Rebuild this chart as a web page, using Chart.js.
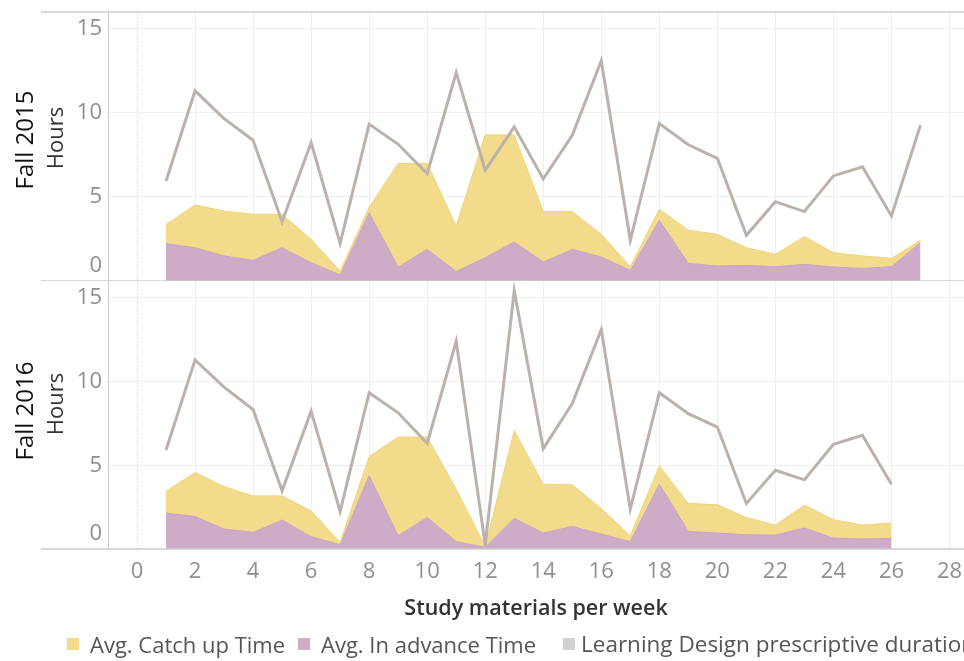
<!DOCTYPE html>
<html lang="en">
<head>
    <meta charset="UTF-8" />
    <title>Study time per week</title>
    <style>
        body { margin: 0; background: #fff; font-family: 'Open Sans', 'Noto Sans', sans-serif; }
        #wrap { position: relative; width: 964px; height: 661px; overflow: hidden; }
        .panel { position: absolute; left: 0; width: 964px; }
        #topPanel { top: 0; height: 281px; }
        #bottomPanel { top: 281px; height: 380px; }
        .sw { position: absolute; top: 638px; width: 12px; height: 12px; }
        .lg { position: absolute; top: 630px; font-size: 22px; line-height: 28px; color: #555; white-space: nowrap; }
        .vlabel { position: absolute; width: 200px; height: 30px; line-height: 30px; margin-left: -100px; margin-top: -15px;
                  text-align: center; transform: rotate(-90deg); white-space: nowrap; }
        .term { font-size: 24px; color: #111; }
        .hours { font-size: 22px; color: #333; }
    </style>
</head>
<body>
<div id="wrap">
    <div class="panel" id="topPanel"><canvas id="chart2015"></canvas></div>
    <div class="panel" id="bottomPanel"><canvas id="chart2016"></canvas></div>

    <div class="vlabel term" style="left:24px; top:140px;">Fall 2015</div>
    <div class="vlabel hours" style="left:54px; top:138px;">Hours</div>
    <div class="vlabel term" style="left:24px; top:411px;">Fall 2016</div>
    <div class="vlabel hours" style="left:54px; top:404px;">Hours</div>

    <div class="sw" style="left:67px; background:#f2db8a;"></div>
    <div class="lg" style="left:90px;">Avg. Catch up Time</div>
    <div class="sw" style="left:298px; background:#ceacc7;"></div>
    <div class="lg" style="left:321px;">Avg. In advance Time</div>
    <div class="sw" style="left:563px; background:#d4d0cd;"></div>
    <div class="lg" style="left:581px; font-size:22.5px;">Learning Design prescriptive duration</div>
</div>

<script src="https://cdn.jsdelivr.net/npm/chart.js"></script>
<script>
    const FONT = "'Open Sans', 'Noto Sans', sans-serif";

    // axis ticks
    const xTicks = [0, 2, 4, 6, 8, 10, 12, 14, 16, 18, 20, 22, 24, 26, 28];
    const yTicks = [0, 5, 10, 15];

    // Fall 2015 (hours per week of study material)
    const weeks2015 = [1, 2, 3, 4, 5, 6, 7, 8, 9, 10, 11, 12, 13, 14, 15, 16, 17, 18, 19, 20, 21, 22, 23, 24, 25, 26, 27];
    const advance2015 = [2.22, 1.98, 1.49, 1.23, 1.98, 1.09, 0.36, 4.05, 0.83, 1.88, 0.56, 1.39, 2.32, 1.13, 1.88, 1.43, 0.63, 3.61, 1.05, 0.89, 0.93, 0.85, 0.99, 0.83, 0.75, 0.85, 2.28];
    const catchUp2015 = [1.15, 2.54, 2.68, 2.74, 1.99, 1.39, 0.24, 0.34, 6.17, 5.12, 2.71, 7.30, 6.37, 3.00, 2.25, 1.35, 0.22, 0.66, 1.97, 1.89, 1.05, 0.74, 1.65, 0.86, 0.74, 0.50, 0.14];
    const design2015 = [5.95, 11.31, 9.66, 8.37, 3.53, 8.23, 2.24, 9.33, 8.13, 6.39, 12.40, 6.59, 9.17, 6.07, 8.67, 13.10, 2.42, 9.37, 8.10, 7.30, 2.72, 4.72, 4.13, 6.25, 6.79, 3.87, 9.27];

    // Fall 2016
    const weeks2016 = [1, 2, 3, 4, 5, 6, 7, 8, 9, 10, 11, 12, 13, 14, 15, 16, 17, 18, 19, 20, 21, 22, 23, 24, 25, 26];
    const advance2016 = [2.14, 1.94, 1.19, 0.99, 1.73, 0.73, 0.26, 4.37, 0.79, 1.88, 0.44, 0.10, 1.83, 0.95, 1.35, 0.89, 0.44, 3.87, 1.05, 0.95, 0.85, 0.83, 1.25, 0.65, 0.60, 0.63];
    const catchUp2016 = [1.33, 2.62, 2.54, 2.18, 1.44, 1.55, 0.14, 1.15, 5.90, 4.81, 3.13, 0.06, 5.25, 2.92, 2.48, 1.53, 0.35, 1.09, 1.67, 1.69, 1.03, 0.60, 1.37, 1.10, 0.83, 0.92];
    const design2016 = [5.91, 11.29, 9.66, 8.33, 3.47, 8.23, 2.24, 9.33, 8.13, 6.31, 12.40, 0.24, 15.42, 5.99, 8.69, 13.10, 2.38, 9.33, 8.08, 7.28, 2.72, 4.70, 4.13, 6.25, 6.79, 3.87];

    function toPoints(weeks, values) {
        return weeks.map((w, i) => ({ x: w, y: values[i] }));
    }

    // panel frame lines, dotted zero line and the raised "0" label
    const framePlugin = {
        id: 'frame',
        beforeDatasetsDraw(chart) {
            const { ctx, chartArea: a, scales: { x } } = chart;
            const x0 = Math.round(x.getPixelForValue(0)) + 0.5;
            ctx.save();
            ctx.strokeStyle = '#cfcfcf';
            ctx.lineWidth = 1;
            ctx.setLineDash([1, 2]);
            ctx.beginPath();
            ctx.moveTo(x0, a.top);
            ctx.lineTo(x0, a.bottom);
            ctx.stroke();
            ctx.restore();
        },
        afterDraw(chart, args, opts) {
            const { ctx, chartArea: a, scales: { y } } = chart;
            ctx.save();
            ctx.strokeStyle = '#cccccc';
            ctx.lineWidth = 1.5;
            const rows = opts.drawTop ? [a.top, a.bottom] : [a.bottom];
            rows.forEach(py => {
                ctx.beginPath();
                ctx.moveTo(41, py);
                ctx.lineTo(chart.width, py);
                ctx.stroke();
            });
            ctx.fillStyle = '#8f8f8f';
            ctx.font = '22px ' + FONT;
            ctx.textAlign = 'right';
            ctx.textBaseline = 'middle';
            ctx.fillText('0', a.left - 6, y.getPixelForValue(0) - 15);
            ctx.restore();
        }
    };

    function makePanel(canvasId, weeks, advance, catchUp, design, showX) {
        const ctx = document.getElementById(canvasId).getContext('2d');
        return new Chart(ctx, {
            type: 'line',
            data: {
                datasets: [{
                    label: 'Learning Design prescriptive duration',
                    data: toPoints(weeks, design),
                    stack: 'design',
                    borderColor: '#bbb1ad',
                    borderWidth: 3,
                    fill: false,
                    pointRadius: 0,
                    tension: 0
                }, {
                    label: 'Avg. In advance Time',
                    data: toPoints(weeks, advance),
                    stack: 'time',
                    borderColor: '#c9a3c1',
                    borderWidth: 1,
                    backgroundColor: '#ceacc7',
                    fill: 'origin',
                    pointRadius: 0,
                    tension: 0
                }, {
                    label: 'Avg. Catch up Time',
                    data: toPoints(weeks, catchUp),
                    stack: 'time',
                    borderColor: '#f0d47e',
                    borderWidth: 1,
                    backgroundColor: '#f2db8a',
                    fill: '-1',
                    pointRadius: 0,
                    tension: 0
                }]
            },
            options: {
                responsive: true,
                maintainAspectRatio: false,
                animation: false,
                layout: { padding: { top: showX ? 0 : 12, left: 0, right: 0, bottom: 0 } },
                plugins: {
                    legend: { display: false },
                    tooltip: { enabled: false },
                    frame: { drawTop: !showX }
                },
                scales: {
                    x: {
                        type: 'linear',
                        min: -1,
                        max: 28.5,
                        afterBuildTicks: s => { s.ticks = xTicks.map(v => ({ value: v })); },
                        afterFit: s => {
                            s.paddingLeft = 0;
                            s.paddingRight = 0;
                            s.height = showX ? 112 : 0;
                        },
                        grid: {
                            color: c => (c.tick && c.tick.value === 0) ? 'rgba(0,0,0,0)' : '#efefef',
                            drawTicks: false
                        },
                        border: { display: false },
                        ticks: {
                            display: showX,
                            padding: 10,
                            color: '#8f8f8f',
                            font: { family: FONT, size: 22 }
                        },
                        title: {
                            display: showX,
                            text: 'Study materials per week',
                            color: '#333',
                            font: { family: FONT, size: 21.5, weight: '600' },
                            padding: { top: 0, bottom: 39 }
                        }
                    },
                    y: {
                        stacked: true,
                        min: 0,
                        max: 16,
                        afterBuildTicks: s => { s.ticks = yTicks.map(v => ({ value: v })); },
                        afterFit: s => {
                            s.width = 108;
                            s.paddingTop = 0;
                            s.paddingBottom = 0;
                        },
                        grid: {
                            color: c => (c.tick && c.tick.value === 0) ? 'rgba(0,0,0,0)' : '#eeeeee',
                            drawTicks: false
                        },
                        border: { color: '#cccccc' },
                        ticks: {
                            padding: 6,
                            color: '#8f8f8f',
                            font: { family: FONT, size: 22 },
                            callback: v => v === 0 ? '' : v
                        },
                        title: { display: false }
                    }
                }
            },
            plugins: [framePlugin]
        });
    }

    makePanel('chart2015', weeks2015, advance2015, catchUp2015, design2015, false);
    makePanel('chart2016', weeks2016, advance2016, catchUp2016, design2016, true);
</script>
</body>
</html>
